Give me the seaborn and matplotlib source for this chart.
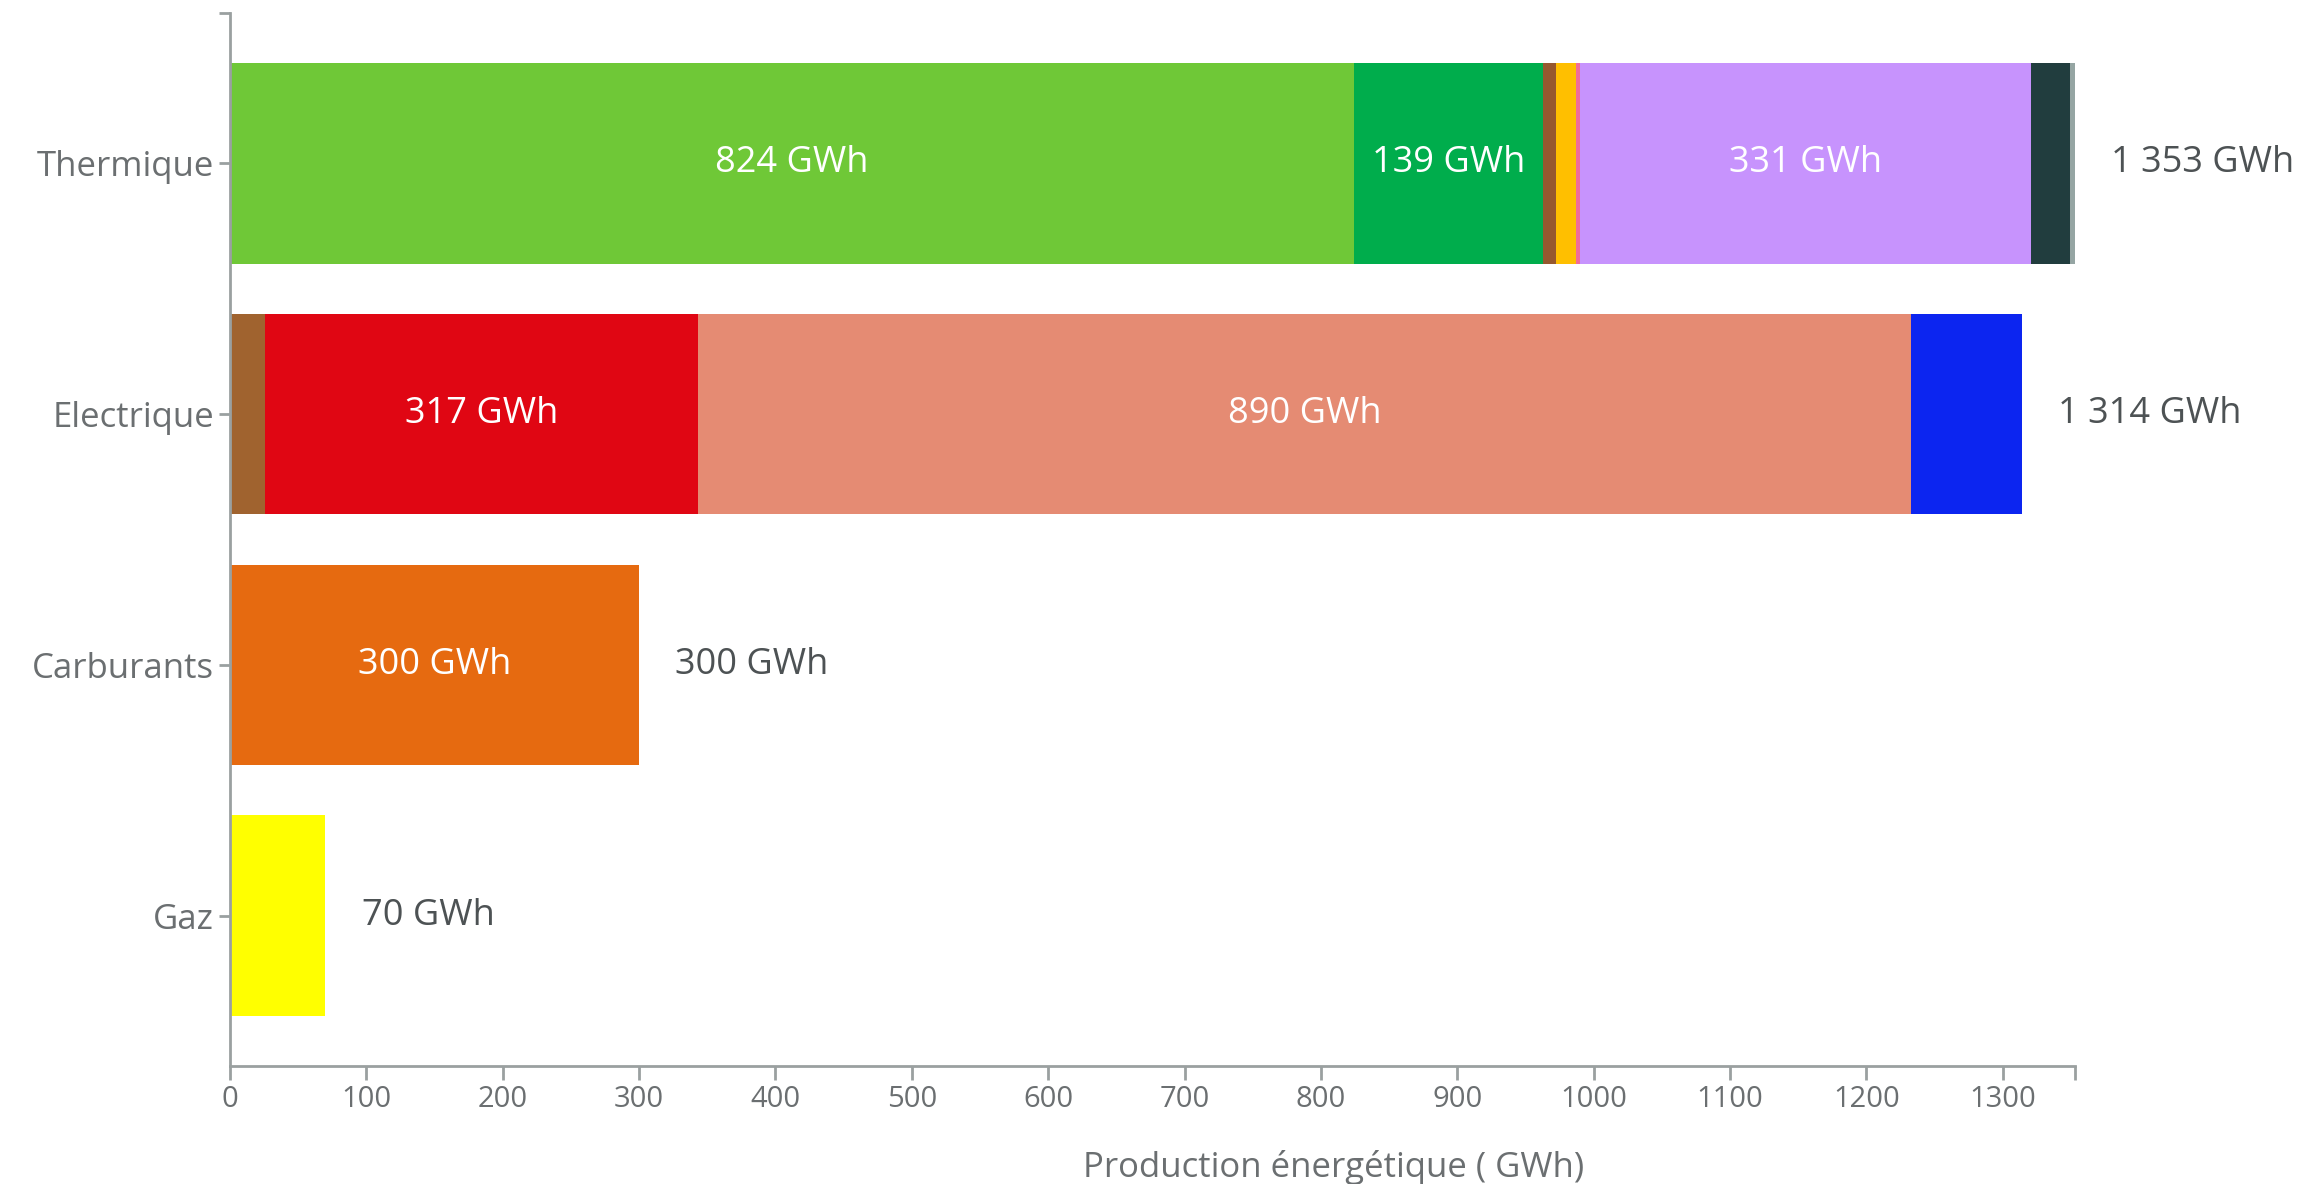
import matplotlib
matplotlib.use("Agg")
import matplotlib.pyplot as plt
import numpy as np
import pandas as pd
import seaborn as sns

# production per energy type, split by segment (GWh)
categories = ["Thermique", "Electrique", "Carburants", "Gaz"]
thermique = [824, 139, 9, 15, 3, 331, 28, 4]
electrique = [26, 317, 890, 81]
carburants = [300]
gaz = [70]
totals = [1353, 1314, 300, 70]
x_ticks = list(range(0, 1400, 100))

colors = {
    "Thermique": ["#6fc837", "#00ad4c", "#96582f", "#ffbf00", "#f06b9b",
                  "#c793fd", "#213d3e", "#95a5a3"],
    "Electrique": ["#a0632f", "#e00613", "#e58b73", "#0c25f0"],
    "Carburants": ["#e66a10"],
    "Gaz": ["#ffff00"],
}

rows = []
for cat, vals in zip(categories, [thermique, electrique, carburants, gaz]):
    left = 0
    for i, v in enumerate(vals):
        rows.append({"cat": cat, "seg": i, "key": f"{cat}-{i}", "value": v,
                     "left": left, "cum": left + v,
                     "color": colors[cat][i]})
        left += v
df = pd.DataFrame(rows)
palette = dict(zip(df["key"], df["color"]))

sns.set_theme(style="white")
plt.rcParams["font.family"] = ["Open Sans", "DejaVu Sans"]

fig = plt.figure(figsize=(23.16, 11.84), dpi=100)
ax = fig.add_axes([0.0993, 0.0997, 0.7967, 0.8893])

# stacked bars: draw cumulative lengths from last segment to first
for k in sorted(df["seg"].unique(), reverse=True):
    sub = df[df["seg"] == k]
    sns.barplot(data=sub, x="cum", y="cat", hue="key", palette=palette,
                order=categories, dodge=False, width=0.8, legend=False,
                saturation=1, linewidth=0, ax=ax)

# labels inside big segments
for _, r in df.iterrows():
    if r["value"] >= 100:
        ax.text(r["left"] + r["value"] / 2, categories.index(r["cat"]),
                f"{r['value']} GWh", ha="center", va="center",
                color="white", fontsize=26)

# totals at bar ends
for i, t in enumerate(totals):
    lab = f"{t:,}".replace(",", " ") + " GWh"
    ax.annotate(lab, (t, i), xytext=(26, 0), textcoords="offset points",
                ha="left", va="center", color="#4d5254", fontsize=26)

ax.set_xlim(0, 1353)
ax.set_ylim(3.6, -0.6)
ax.set_xticks(x_ticks)
ax.set_xticks([1353], minor=True)
ax.set_yticks([-0.6], minor=True)
ax.set_ylabel("")
ax.set_xlabel("Production énergétique ( GWh)", fontsize=25, color="#6b6f71")
ax.xaxis.set_label_coords(0.598, -0.08)

for s in ["top", "right"]:
    ax.spines[s].set_visible(False)
for s in ["left", "bottom"]:
    ax.spines[s].set_color("#9aa0a0")
    ax.spines[s].set_linewidth(2)
ax.tick_params(axis="both", which="both", direction="out", color="#9aa0a0",
               width=2, labelcolor="#6b6f71")
ax.tick_params(axis="x", which="both", length=10, bottom=True, labelsize=21)
ax.tick_params(axis="y", which="both", length=8, left=True, labelsize=25)

fig.savefig("out.png", dpi=100)
